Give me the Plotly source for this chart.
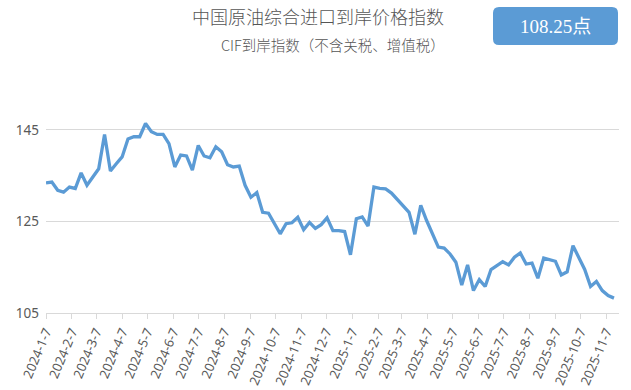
import plotly.graph_objects as go
import pandas as pd

# ---- data (weekly index values) ----
start_date = "2024-01-07"
index_values = [
    133.4, 133.6, 131.8, 131.4, 132.5, 132.2, 135.6, 132.9, 134.7, 136.5,
    144.0, 136.0, 137.6, 139.1, 143.0, 143.5, 143.5, 146.4, 144.6, 144.0,
    144.0, 142.0, 136.9, 139.5, 139.3, 136.2, 141.6, 139.3, 138.9, 141.3,
    140.2, 137.4, 136.9, 137.1, 132.9, 130.3, 131.3, 127.0, 126.8, 124.5,
    122.3, 124.5, 124.7, 125.9, 123.2, 124.8, 123.5, 124.3, 125.8, 123.0,
    123.0, 122.8, 117.7, 125.6, 126.0, 124.0, 132.5, 132.2, 132.1, 131.2,
    129.8, 128.6, 127.0, 122.2, 128.5, 125.2, 122.3, 119.4, 119.2, 117.9,
    116.1, 111.1, 115.5, 109.9, 112.3, 110.8, 114.5, 115.4, 116.2, 115.5,
    117.2, 118.1, 115.7, 115.9, 112.6, 117.0, 116.6, 116.3, 113.3, 114.0,
    119.7, 117.2, 114.5, 110.8, 111.9, 109.9, 108.8, 108.25,
]
dates = pd.date_range(start=start_date, periods=len(index_values), freq="7D")

tick_dates = [
    "2024-01-07", "2024-02-07", "2024-03-07", "2024-04-07", "2024-05-07",
    "2024-06-07", "2024-07-07", "2024-08-07", "2024-09-07", "2024-10-07",
    "2024-11-07", "2024-12-07", "2025-01-07", "2025-02-07", "2025-03-07",
    "2025-04-07", "2025-05-07", "2025-06-07", "2025-07-07", "2025-08-07",
    "2025-09-07", "2025-10-07", "2025-11-07",
]
tick_labels = [
    "2024-1-7", "2024-2-7", "2024-3-7", "2024-4-7", "2024-5-7", "2024-6-7",
    "2024-7-7", "2024-8-7", "2024-9-7", "2024-10-7", "2024-11-7", "2024-12-7",
    "2025-1-7", "2025-2-7", "2025-3-7", "2025-4-7", "2025-5-7", "2025-6-7",
    "2025-7-7", "2025-8-7", "2025-9-7", "2025-10-7", "2025-11-7",
]
y_ticks = [105, 125, 145]

title_text = "中国原油综合进口到岸价格指数"
subtitle_text = "CIF到岸指数（不含关税、增值税）"
badge_text = "108.25点"

# ---- layout geometry ----
W, H = 631, 390
L, R, T, B = 46, 12, 107, 77
PW, PH = W - L - R, H - T - B


def px_x(px):
    return (px - L) / PW


def px_y(py):
    return (H - B - py) / PH


LINE_BLUE = "#5b9bd5"
TEXT_GRAY = "#595959"
GRID = "#d9d9d9"

fig = go.Figure()
fig.add_trace(go.Scatter(
    x=dates, y=index_values, mode="lines",
    line=dict(color=LINE_BLUE, width=3.3),
    hoverinfo="skip", showlegend=False,
))

# rounded badge
x0, x1, y0, y1, r = px_x(493), px_x(618), px_y(45), px_y(7), 6
rx, ry = r / PW, r / PH
path = (
    f"M {x0+rx},{y0} L {x1-rx},{y0} Q {x1},{y0} {x1},{y0+ry} "
    f"L {x1},{y1-ry} Q {x1},{y1} {x1-rx},{y1} "
    f"L {x0+rx},{y1} Q {x0},{y1} {x0},{y1-ry} "
    f"L {x0},{y0+ry} Q {x0},{y0} {x0+rx},{y0} Z"
)
fig.add_shape(type="path", path=path, xref="paper", yref="paper",
              fillcolor=LINE_BLUE, line=dict(width=0), layer="above")

CJK = "Noto Sans CJK SC, Noto Sans, sans-serif"
fig.add_annotation(text=title_text, xref="paper", yref="paper",
                   x=px_x(446), y=px_y(16), xanchor="right", yanchor="middle",
                   showarrow=False,
                   font=dict(family=CJK, size=18, color="#555555", weight=300))
fig.add_annotation(text=subtitle_text, xref="paper", yref="paper",
                   x=px_x(447), y=px_y(45), xanchor="right", yanchor="middle",
                   showarrow=False,
                   font=dict(family=CJK, size=14.5, color="#555555", weight=300))
fig.add_annotation(text=badge_text, xref="paper", yref="paper",
                   x=px_x(555.5), y=px_y(26.5), xanchor="center", yanchor="middle",
                   showarrow=False,
                   font=dict(family="Liberation Serif, Noto Sans CJK SC, serif", size=19, color="white"))

fig.update_layout(
    width=W, height=H,
    margin=dict(l=L, r=R, t=T, b=B, pad=0, autoexpand=False),
    paper_bgcolor="white", plot_bgcolor="white",
    xaxis=dict(
        type="date", automargin=False,
        range=["2024-01-07", "2025-11-22"],
        tickmode="array", tickvals=tick_dates, ticktext=tick_labels,
        tickangle=-67,
        ticks="outside", ticklen=5, tickcolor=GRID, tickwidth=1,
        showline=True, linecolor=GRID, linewidth=1,
        showgrid=False, zeroline=False,
        tickfont=dict(family="Noto Sans, sans-serif", size=13, color=TEXT_GRAY),
    ),
    yaxis=dict(
        range=[105, 150], automargin=False,
        tickmode="array", tickvals=y_ticks,
        showgrid=True, gridcolor=GRID, gridwidth=1,
        showline=False, zeroline=False, ticks="",
        ticklabelstandoff=6,
        tickfont=dict(family="Noto Sans, sans-serif", size=13.5, color=TEXT_GRAY),
    ),
)

fig.write_html("out.html")
